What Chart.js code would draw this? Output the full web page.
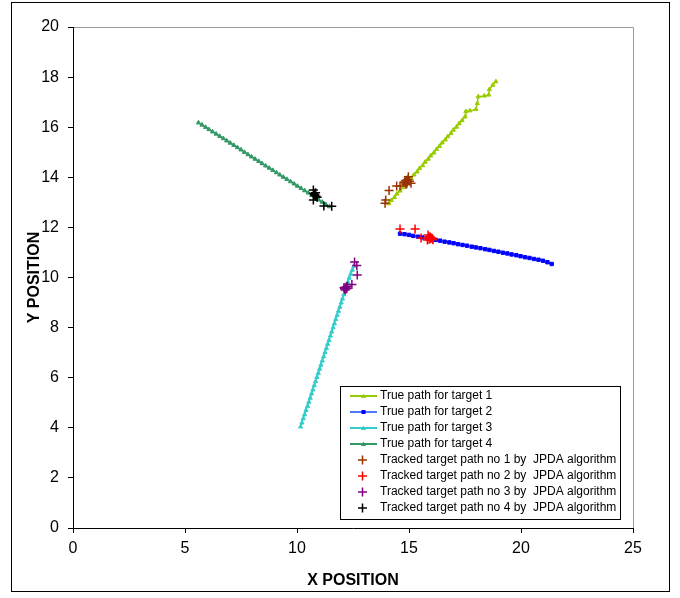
<!DOCTYPE html>
<html lang="en">
<head>
<meta charset="UTF-8">
<title>JPDA tracking</title>
<script src="https://cdn.jsdelivr.net/npm/chart.js"></script>
<style>
  body { margin: 0; background: #fff; }
</style>
</head>
<body>
<canvas id="trackChart" width="680" height="598"></canvas>
<script>
// true paths
const t1x = [14.10,14.21,14.35,14.46,14.60,14.71,14.85,14.96,15.10,15.22,15.36,15.47,15.61,15.72,15.86,15.97,16.11,16.23,16.36,16.48,16.62,16.73,16.87,16.98,17.12,17.24,17.37,17.50,17.54,17.72,17.99,18.05,18.09,18.36,18.56,18.59,18.74,18.88];
const t1y = [12.95,13.08,13.20,13.34,13.46,13.59,13.70,13.84,13.96,14.10,14.22,14.36,14.47,14.61,14.73,14.86,14.98,15.12,15.24,15.38,15.50,15.63,15.75,15.89,16.01,16.15,16.27,16.42,16.63,16.66,16.71,16.95,17.22,17.25,17.29,17.51,17.68,17.82];

const t2x = [14.60,14.80,15.00,15.19,15.40,15.59,15.80,15.99,16.20,16.39,16.59,16.80,16.99,17.19,17.39,17.59,17.80,17.99,18.19,18.40,18.59,18.79,18.99,19.19,19.39,19.58,19.79,19.98,20.18,20.38,20.58,20.78,20.98,21.18,21.37];
const t2y = [11.75,11.73,11.70,11.66,11.63,11.60,11.57,11.53,11.50,11.47,11.43,11.40,11.37,11.33,11.30,11.27,11.23,11.20,11.17,11.13,11.10,11.06,11.03,10.99,10.96,10.92,10.89,10.85,10.81,10.78,10.74,10.71,10.67,10.61,10.54];

const t3x = [10.16,10.22,10.28,10.34,10.40,10.47,10.53,10.59,10.65,10.71,10.77,10.83,10.89,10.95,11.01,11.07,11.13,11.19,11.25,11.31,11.37,11.43,11.49,11.55,11.61,11.67,11.73,11.79,11.85,11.91,11.97,12.03,12.09,12.15,12.21,12.27,12.33,12.40,12.47,12.54];
const t3y = [4.04,4.20,4.37,4.53,4.70,4.86,5.03,5.19,5.36,5.52,5.69,5.85,6.02,6.18,6.35,6.51,6.68,6.84,7.01,7.17,7.34,7.50,7.67,7.83,8.00,8.16,8.33,8.49,8.66,8.82,8.99,9.15,9.32,9.48,9.65,9.81,9.98,10.14,10.30,10.46];

const t4x = [5.60,5.76,5.92,6.07,6.23,6.39,6.55,6.71,6.86,7.02,7.18,7.34,7.50,7.65,7.81,7.97,8.13,8.29,8.44,8.60,8.76,8.92,9.08,9.23,9.39,9.55,9.71,9.87,10.02,10.18,10.34,10.50,10.66,10.81,10.97,11.13,11.29,11.45];
const t4y = [16.18,16.09,16.00,15.91,15.82,15.73,15.64,15.55,15.46,15.37,15.28,15.19,15.10,15.00,14.91,14.82,14.73,14.64,14.55,14.46,14.37,14.28,14.19,14.10,14.01,13.92,13.83,13.74,13.65,13.56,13.47,13.38,13.28,13.19,13.10,13.01,12.92,12.83];

// tracked by JPDA
const tr1x = [13.93,13.96,14.11,14.45,14.60,14.82,14.88,14.93,14.97,15.09,14.86,14.95,14.80,14.90,15.02,14.84];
const tr1y = [12.96,13.09,13.47,13.65,13.65,13.78,13.88,13.82,14.02,13.76,13.72,13.90,13.80,13.74,13.84,13.86];
const tr2x = [14.60,15.27,15.54,15.85,15.94,16.07,15.90,16.00,15.82,15.95,16.05,15.90];
const tr2y = [11.94,11.94,11.58,11.70,11.55,11.51,11.62,11.58,11.50,11.62,11.55,11.53];
const tr3x = [12.57,12.67,12.69,12.45,12.22,12.15,12.10,12.25,12.18,12.20,12.12];
const tr3y = [10.62,10.48,10.10,9.72,9.55,9.50,9.60,9.65,9.58,9.62,9.55];
const tr4x = [10.80,10.73,10.73,11.20,11.55,10.85,10.75,10.90,10.78,10.83];
const tr4y = [13.29,13.49,13.09,12.85,12.84,13.24,13.36,13.20,13.30,13.38];

const xTicks = [0, 5, 10, 15, 20, 25];
const yTicks = [0, 2, 4, 6, 8, 10, 12, 14, 16, 18, 20];

const FONT = "'Liberation Sans', Arial, sans-serif";
const pts = (xs, ys) => xs.map((x, i) => ({ x: x, y: ys[i] }));

function truePath(label, xs, ys, line, mark, style) {
  return {
    label: label, data: pts(xs, ys), showLine: true,
    borderColor: line, borderWidth: 1.5,
    pointStyle: style, pointRadius: 2.4,
    pointBackgroundColor: mark, pointBorderColor: mark, pointBorderWidth: 1,
    order: 1
  };
}
function tracked(label, xs, ys, col) {
  return {
    label: label, data: pts(xs, ys), showLine: false,
    pointStyle: 'cross', pointRadius: 4.5,
    pointBorderColor: col, pointBackgroundColor: col, pointBorderWidth: 1.5,
    order: 0
  };
}

const datasets = [
  truePath('True path for target 1', t1x, t1y, '#99CC00', '#99CC00', 'triangle'),
  truePath('True path for target 2', t2x, t2y, '#4D79FF', '#0000FF', 'rect'),
  truePath('True path for target 3', t3x, t3y, '#33CCCC', '#33CCCC', 'triangle'),
  truePath('True path for target 4', t4x, t4y, '#339966', '#339966', 'triangle'),
  tracked('Tracked target path no 1 by  JPDA algorithm', tr1x, tr1y, '#993300'),
  tracked('Tracked target path no 2 by  JPDA algorithm', tr2x, tr2y, '#FF0000'),
  tracked('Tracked target path no 3 by  JPDA algorithm', tr3x, tr3y, '#800080'),
  tracked('Tracked target path no 4 by  JPDA algorithm', tr4x, tr4y, '#000000')
];

// background, outer frame, grey top/right plot border, legend box
const framePlugin = {
  id: 'framePlugin',
  beforeDraw(chart) {
    const { ctx, chartArea: a } = chart;
    ctx.save();
    ctx.fillStyle = '#fff';
    ctx.fillRect(0, 0, chart.width, chart.height);
    ctx.strokeStyle = '#000';
    ctx.lineWidth = 1;
    ctx.strokeRect(11.5, 2.5, 658, 589);
    ctx.strokeStyle = '#9a9a9a';
    ctx.beginPath();
    ctx.moveTo(a.left, Math.round(a.top) + 0.5);
    ctx.lineTo(Math.round(a.right) + 0.5, Math.round(a.top) + 0.5);
    ctx.lineTo(Math.round(a.right) + 0.5, a.bottom);
    ctx.stroke();
    ctx.restore();
  },
  afterDraw(chart) {
    const ctx = chart.ctx;
    const bx = 340.5, by = 386.5, bw = 280, bh = 133;
    ctx.save();
    ctx.fillStyle = '#fff';
    ctx.fillRect(bx, by, bw, bh);
    ctx.strokeStyle = '#000';
    ctx.lineWidth = 1;
    ctx.strokeRect(bx, by, bw, bh);
    ctx.font = '12px ' + FONT;
    ctx.textBaseline = 'middle';
    chart.data.datasets.forEach((ds, i) => {
      const y = 396 + i * 16;
      if (ds.showLine) {
        ctx.strokeStyle = ds.borderColor;
        ctx.lineWidth = 2;
        ctx.beginPath();
        ctx.moveTo(350, y);
        ctx.lineTo(377, y);
        ctx.stroke();
        ctx.fillStyle = ds.pointBackgroundColor;
        if (ds.pointStyle === 'rect') {
          ctx.fillRect(361.5, y - 2, 4, 4);
        } else {
          ctx.beginPath();
          ctx.moveTo(363.5, y - 2.5);
          ctx.lineTo(366, y + 2);
          ctx.lineTo(361, y + 2);
          ctx.closePath();
          ctx.fill();
        }
      } else {
        ctx.strokeStyle = ds.pointBorderColor;
        ctx.lineWidth = 1.5;
        ctx.beginPath();
        ctx.moveTo(358, y); ctx.lineTo(367, y);
        ctx.moveTo(362.5, y - 4.5); ctx.lineTo(362.5, y + 4.5);
        ctx.stroke();
      }
      ctx.fillStyle = '#000';
      ctx.fillText(ds.label, 380, y);
    });
    ctx.restore();
  }
};

const ctx = document.getElementById('trackChart').getContext('2d');
const chart = new Chart(ctx, {
  type: 'scatter',
  data: { datasets: datasets },
  options: {
    responsive: false,
    animation: false,
    layout: { padding: { left: 0, top: 27, right: 47, bottom: 0 } },
    plugins: { legend: { display: false }, tooltip: { enabled: false } },
    scales: {
      x: {
        type: 'linear', min: 0, max: 25,
        afterBuildTicks: s => { s.ticks = xTicks.map(v => ({ value: v })); },
        afterFit: s => { s.height = 70; },
        grid: { drawOnChartArea: false, drawTicks: true, tickLength: 5, color: '#000' },
        border: { color: '#000', width: 1 },
        ticks: { color: '#000', padding: 6, font: { family: FONT, size: 16 } },
        title: { display: true, text: 'X POSITION', color: '#000',
                 font: { family: FONT, size: 16, weight: 'bold' }, padding: { top: 0, bottom: 8 } }
      },
      y: {
        type: 'linear', min: 0, max: 20,
        afterBuildTicks: s => { s.ticks = yTicks.map(v => ({ value: v })); },
        afterFit: s => { s.width = 73; },
        grid: { drawOnChartArea: false, drawTicks: true, tickLength: 5, color: '#000' },
        border: { color: '#000', width: 1 },
        ticks: { color: '#000', padding: 9, font: { family: FONT, size: 16 } },
        title: { display: true, text: 'Y POSITION', color: '#000',
                 font: { family: FONT, size: 16, weight: 'bold' }, padding: { top: 25, bottom: 0 } }
      }
    }
  },
  plugins: [framePlugin]
});
</script>
</body>
</html>
